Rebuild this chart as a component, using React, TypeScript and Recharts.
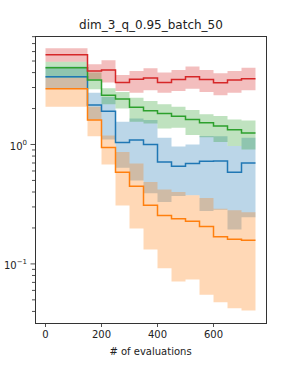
import React from "react";
import { Area, ComposedChart, Label, Line, XAxis, YAxis } from "recharts";

// evaluation counts where the step values change (750 closes the last step)
const evals = [0, 150, 200, 250, 300, 350, 400, 450, 500, 550, 600, 650, 700, 750];

const blueMean = [3.7, 2.14, 1.9, 1.04, 1.09, 1.0, 0.714, 0.657, 0.692, 0.724, 0.728, 0.585, 0.7];
const blueLo = [2.96, 1.62, 1.1, 0.64, 0.5, 0.39, 0.33, 0.37, 0.375, 0.277, 0.284, 0.194, 0.246];
const blueHi = [4.49, 2.71, 2.5, 1.55, 1.65, 1.6, 1.14, 0.96, 1.0, 1.18, 1.17, 0.97, 1.14];

const orangeMean = [2.93, 1.6, 0.945, 0.585, 0.446, 0.31, 0.254, 0.239, 0.228, 0.206, 0.169, 0.161, 0.158];
const orangeLo = [2.07, 1.17, 0.679, 0.309, 0.198, 0.132, 0.0918, 0.0714, 0.074, 0.0551, 0.0478, 0.0426, 0.0408];
const orangeHi = [3.63, 2.07, 1.19, 0.867, 0.692, 0.485, 0.419, 0.4, 0.375, 0.356, 0.29, 0.281, 0.271];

const greenMean = [4.4, 3.47, 2.58, 2.4, 2.05, 1.92, 1.82, 1.72, 1.62, 1.52, 1.43, 1.33, 1.25];
const greenLo = [3.6, 2.9, 2.17, 2.0, 1.55, 1.5, 1.36, 1.38, 1.2, 1.15, 1.05, 0.97, 0.91];
const greenHi = [4.94, 4.0, 2.96, 2.75, 2.46, 2.31, 2.17, 2.07, 1.94, 1.79, 1.73, 1.62, 1.59];

const redMean = [5.63, 4.13, 4.21, 3.3, 3.52, 3.61, 3.31, 3.5, 3.69, 3.5, 3.29, 3.46, 3.56];
const redLo = [4.94, 3.52, 3.3, 2.8, 2.71, 2.84, 2.71, 2.8, 2.93, 2.75, 2.58, 2.71, 2.84];
const redHi = [6.41, 4.7, 5.08, 3.82, 4.13, 4.35, 4.0, 4.21, 4.49, 4.21, 3.95, 4.13, 4.4];

const xTicks = [0, 200, 400, 600];
const majorTicks = [0.1, 1];
const yTicks = [0.04, 0.05, 0.06, 0.07, 0.08, 0.09, 0.1, 0.2, 0.3, 0.4, 0.5, 0.6, 0.7, 0.8, 0.9, 1, 2, 3, 4, 5, 6, 7, 8];
const majorLabels: Record<string, string> = { "0.1": "\u22121", "1": "0" };

const series = [
  { key: "blue", color: "#1f77b4", mean: blueMean, lo: blueLo, hi: blueHi },
  { key: "orange", color: "#ff7f0e", mean: orangeMean, lo: orangeLo, hi: orangeHi },
  { key: "green", color: "#2ca02c", mean: greenMean, lo: greenLo, hi: greenHi },
  { key: "red", color: "#d62728", mean: redMean, lo: redLo, hi: redHi },
];

const rows = evals.map((x, i) => {
  const k = Math.min(i, blueMean.length - 1);
  const row: Record<string, number | number[]> = { x };
  for (const s of series) {
    row[s.key] = s.mean[k];
    row[s.key + "Band"] = [s.lo[k], s.hi[k]];
  }
  return row;
});

const FONT = "'DejaVu Sans', sans-serif";

function LogTick(props: any) {
  const { x, y, payload } = props;
  const major = majorTicks.includes(payload.value);
  return (
    <g>
      <line x1={x - (major ? 4.5 : 3)} x2={x} y1={y} y2={y} stroke="#222" strokeWidth={0.8} />
      {major && (
        <text x={x - 8} y={y + 5.5} textAnchor="end" fontSize={10} fill="#222" fontFamily={FONT}>
          <tspan>10</tspan>
          <tspan dy={-5} fontSize={7}>
            {majorLabels[String(payload.value)]}
          </tspan>
        </text>
      )}
    </g>
  );
}

export default function App() {
  return (
    <div style={{ position: "absolute", left: 0, top: 0, width: 287, height: 365, background: "#fff" }}>
      <div
        style={{
          position: "absolute",
          left: 35,
          width: 232,
          top: 17,
          lineHeight: "16px",
          textAlign: "center",
          fontFamily: FONT,
          fontSize: 12,
          color: "#222",
        }}
      >
        dim_3_q_0.95_batch_50
      </div>
      <ComposedChart width={287} height={365} data={rows} margin={{ top: 36, right: 21, bottom: 0, left: 0 }}>
        <XAxis
          dataKey="x"
          type="number"
          domain={[-37.5, 787.5]}
          ticks={xTicks}
          allowDataOverflow
          axisLine={false}
          tickSize={4}
          tickMargin={4}
          height={42}
          tick={{ fontSize: 10, fill: "#222", fontFamily: FONT }}
          tickLine={{ stroke: "#222", strokeWidth: 0.8 }}
        >
          <Label
            value="# of evaluations"
            position="insideBottom"
            offset={10}
            style={{ fontSize: 10, fill: "#222", fontFamily: FONT }}
          />
        </XAxis>
        <YAxis
          scale="log"
          type="number"
          domain={[0.032, 8.1]}
          allowDataOverflow
          ticks={yTicks}
          interval={0}
          width={35}
          axisLine={false}
          tickLine={false}
          tickSize={0}
          tickMargin={0}
          tick={<LogTick />}
        />
        {series.map((s) => (
          <Area
            key={s.key + "Band"}
            dataKey={s.key + "Band"}
            type="stepAfter"
            stroke="none"
            fill={s.color}
            fillOpacity={0.3}
            isAnimationActive={false}
            dot={false}
            activeDot={false}
          />
        ))}
        {series.map((s) => (
          <Line
            key={s.key}
            dataKey={s.key}
            type="stepAfter"
            stroke={s.color}
            strokeWidth={1.5}
            dot={false}
            activeDot={false}
            isAnimationActive={false}
          />
        ))}
      </ComposedChart>
      <div
        style={{
          position: "absolute",
          left: 35,
          top: 36,
          width: 232,
          height: 288,
          boxSizing: "border-box",
          border: "1px solid #333",
          pointerEvents: "none",
        }}
      />
    </div>
  );
}
